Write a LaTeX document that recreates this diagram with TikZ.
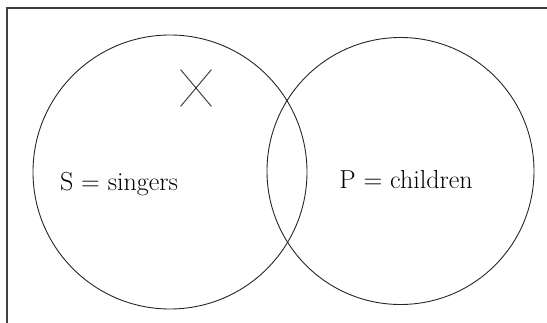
\documentclass[tikz,border=0pt]{standalone}
\usepackage{tikz}
\usetikzlibrary{shapes.misc}

\begin{document}
\begin{tikzpicture}[
  x=1pt, y=-1pt,
  frame/.style={draw=black!75, line width=2pt},
  set/.style={draw=black!85, line width=0.9pt},
  lbl/.style={font=\fontsize{26}{30}\selectfont, inner sep=0pt},
  xmk/.style={cross out, draw=black!80, line width=0.9pt,
              minimum width=30pt, minimum height=36pt, inner sep=0pt},
]

\useasboundingbox (0,0) rectangle (547,323);

% ============ FRAME ============
\draw[frame] (7,8) rectangle (570,345);

% ============ SETS ============
\node[set, circle, minimum size=274pt, inner sep=0pt] (S) at (170,172) {};
\node[set, circle, minimum size=267pt, inner sep=0pt] (P) at (400.5,171) {};

% ============ LABELS ============
\node[lbl] (Slbl) at (119,184) {S = singers};
\node[lbl] (Plbl) at (406,180) {P = children};

% X mark in S
\node[xmk] (xs) at (196,88) {};

\end{tikzpicture}
\end{document}
